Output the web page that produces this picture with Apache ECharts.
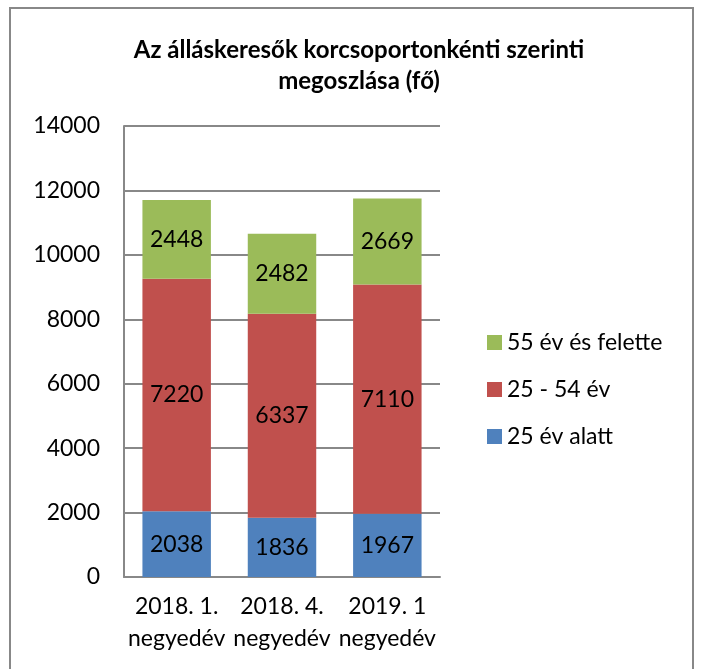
<!DOCTYPE html>
<html>
<head>
<meta charset="utf-8">
<script src="https://cdn.jsdelivr.net/npm/echarts@6/dist/echarts.min.js"></script>
<style>
  html, body { margin: 0; padding: 0; background: #fff; }
  #chart { width: 703px; height: 669px; }
</style>
</head>
<body>
<div id="chart"></div>
<script>
// adatok
var categories = ['2018. 1.\nnegyedév', '2018. 4.\nnegyedév', '2019. 1\nnegyedév'];
var under25 = [2038, 1836, 1967];
var age25to54 = [7220, 6337, 7110];
var over55 = [2448, 2482, 2669];
var seriesNames = ['25 év alatt', '25 - 54 év', '55 év és felette'];
var colors = ['#4F81BD', '#C0504D', '#9BBB59'];

var font = 'Lato, "Open Sans", sans-serif';
var fs = 23;

var myChart = echarts.init(document.getElementById('chart'));

function barSeries(name, data, color) {
  return {
    name: name,
    type: 'bar',
    stack: 'total',
    barWidth: '65%',
    data: data,
    itemStyle: { color: color },
    label: {
      show: true,
      position: 'inside',
      color: '#000',
      fontFamily: font,
      fontSize: fs
    }
  };
}

var option = {
  animation: false,
  textStyle: { fontFamily: font },
  title: {
    text: 'Az álláskeresők korcsoportonkénti szerinti\nmegoszlása (fő)',
    left: 354,
    top: 30,
    textAlign: 'center',
    textStyle: {
      fontFamily: font,
      fontSize: 24,
      fontWeight: 'bold',
      color: '#000',
      lineHeight: 31
    }
  },
  graphic: [{
    type: 'rect',
    shape: { x: 10, y: 8, width: 683, height: 700 },
    style: { fill: 'none', stroke: '#888', lineWidth: 2 },
    silent: true
  }],
  legend: {
    orient: 'vertical',
    left: 482,
    top: 326,
    itemWidth: 15,
    itemHeight: 15,
    itemGap: 24,
    icon: 'rect',
    data: [seriesNames[2], seriesNames[1], seriesNames[0]],
    textStyle: { fontFamily: font, fontSize: fs, color: '#000' }
  },
  grid: {
    left: 124,
    right: 263,
    top: 126,
    bottom: 92
  },
  xAxis: {
    type: 'category',
    data: categories,
    axisLine: { lineStyle: { color: '#888', width: 2 } },
    axisTick: { show: false },
    axisLabel: {
      color: '#000',
      fontFamily: font,
      fontSize: fs,
      lineHeight: 32,
      margin: 14,
      interval: 0
    }
  },
  yAxis: {
    type: 'value',
    min: 0,
    max: 14000,
    interval: 2000,
    axisLine: { show: true, lineStyle: { color: '#888', width: 2 } },
    axisTick: { show: false },
    splitLine: { lineStyle: { color: '#888', width: 2 } },
    axisLabel: {
      color: '#000',
      fontFamily: font,
      fontSize: fs,
      margin: 24,
      formatter: function (v) { return String(v); }
    }
  },
  series: [
    barSeries(seriesNames[0], under25, colors[0]),
    barSeries(seriesNames[1], age25to54, colors[1]),
    barSeries(seriesNames[2], over55, colors[2])
  ]
};

myChart.setOption(option);
</script>
</body>
</html>
